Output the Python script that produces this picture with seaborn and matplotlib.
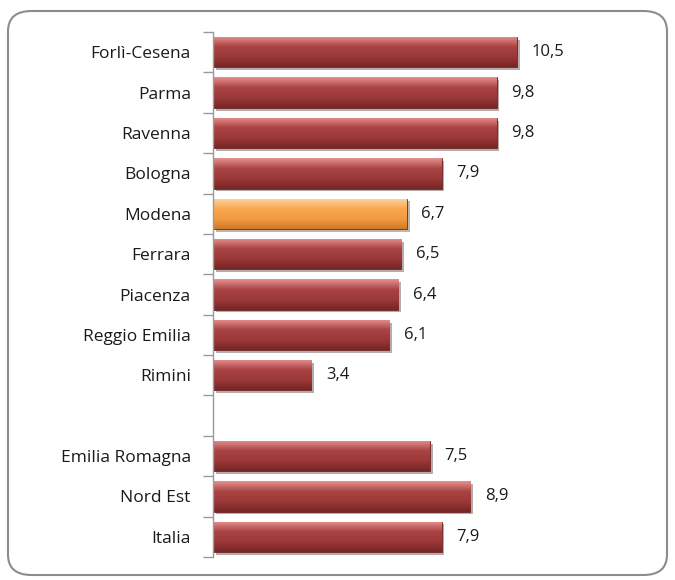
import numpy as np
import pandas as pd
import matplotlib
matplotlib.use('Agg')
import matplotlib.pyplot as plt
import matplotlib.patheffects as pe
from matplotlib.patches import FancyBboxPatch
from matplotlib.colors import LinearSegmentedColormap
import seaborn as sns

areas = ['Forlì-Cesena', 'Parma', 'Ravenna', 'Bologna', 'Modena', 'Ferrara',
         'Piacenza', 'Reggio Emilia', 'Rimini', ' ',
         'Emilia Romagna', 'Nord Est', 'Italia']
values = [10.5, 9.8, 9.8, 7.9, 6.7, 6.5, 6.4, 6.1, 3.4, np.nan, 7.5, 8.9, 7.9]
highlight = 'Modena'

red = '#A33D3D'
orange = '#F5A04A'

sns.set_style('white')
plt.rcParams['font.family'] = ['Open Sans', 'DejaVu Sans']

df = pd.DataFrame({'area': areas, 'value': values})
colors = {a: (orange if a == highlight else red) for a in areas}

fig = plt.figure(figsize=(6.75, 5.8), dpi=100)
ax = fig.add_axes([0.3156, 0.0397, 0.63, 0.905])

sns.barplot(data=df.dropna(), x='value', y='area', order=areas, hue='area',
            palette=colors, legend=False, width=0.75, saturation=1,
            edgecolor='#6E2424', linewidth=0.6, ax=ax)

# bevel-like gradient on each bar
grad_red = LinearSegmentedColormap.from_list('r', ['#E69090', '#AA4444', '#9C3838', '#762626'])
grad_or = LinearSegmentedColormap.from_list('o', ['#FDD6A0', '#F8A850', '#F39B40', '#CF7B2A'])
g = np.linspace(0, 1, 64).reshape(-1, 1)
for p in list(ax.patches):
    if np.isnan(p.get_width()) or p.get_width() == 0:
        continue
    x0, y0 = p.get_x(), p.get_y()
    w, h = p.get_width(), p.get_height()
    is_or = matplotlib.colors.to_hex(p.get_facecolor()) == orange.lower()
    p.set_path_effects([pe.SimplePatchShadow(offset=(2, -2), alpha=0.35), pe.Normal()])
    im = ax.imshow(g, cmap=grad_or if is_or else grad_red, aspect='auto',
                   extent=(x0, x0 + w, y0 + h, y0), zorder=p.get_zorder() + 0.1,
                   interpolation='bilinear')
    im.set_clip_path(p)

for i, v in enumerate(values):
    if np.isnan(v):
        continue
    ax.text(v + 0.5, i, f'{v:.1f}'.replace('.', ','), va='center', ha='left',
            fontsize=12, color='#1a1a1a')

ax.set_xlim(0, 14.7)
ax.set_ylim(len(areas) - 0.5, -0.5)
ax.set_xlabel('')
ax.set_ylabel('')
ax.set_xticks([])
ax.set_yticks(range(len(areas)))
ax.set_yticks(np.arange(-0.5, len(areas), 1), minor=True)
ax.tick_params(axis='y', which='major', length=0, pad=16, labelsize=12.5, labelcolor='#1a1a1a')
ax.tick_params(axis='y', which='minor', length=7, width=1, color='#9a9a9a', left=True)
for s in ['top', 'right', 'bottom']:
    ax.spines[s].set_visible(False)
ax.spines['left'].set_color('#9a9a9a')
ax.spines['left'].set_linewidth(1)

box = FancyBboxPatch((8 / 675, 5 / 580), 659 / 675, 564 / 580,
                     boxstyle='round,pad=0,rounding_size=0.035',
                     transform=fig.transFigure, fill=False,
                     edgecolor='#8C8C8C', linewidth=1.5, zorder=-1)
fig.patches.append(box)

fig.savefig('out.png', dpi=100)
